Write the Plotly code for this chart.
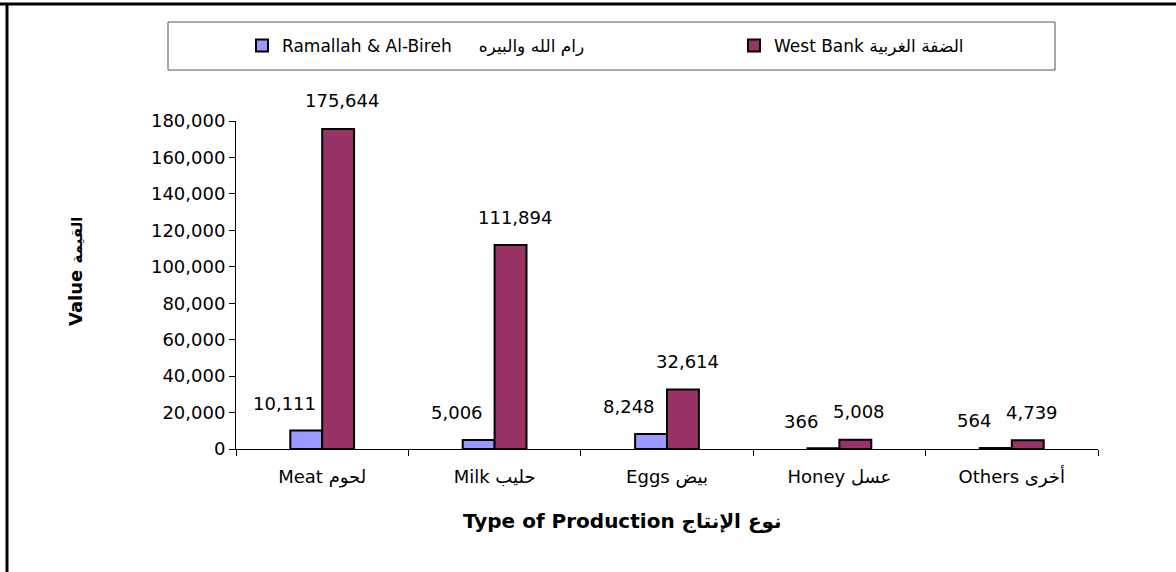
"""Livestock production value: Ramallah & Al-Bireh vs West Bank (grouped bars)."""

import plotly.graph_objects as go

# ── Data ──────────────────────────────────────────────────────────────────────
CATEGORIES = ["Meat لحوم", "Milk حليب", "Eggs بيض", "Honey عسل", "Others أخرى"]
RAMALLAH = [10111, 5006, 8248, 366, 564]
WEST_BANK = [175644, 111894, 32614, 5008, 4739]
SERIES_NAMES = ["Ramallah & Al-Bireh     رام الله والبيره", "West Bank الضفة الغربية"]
Y_TICKS = [0, 20000, 40000, 60000, 80000, 100000, 120000, 140000, 160000, 180000]
X_TITLE = "<b>Type of Production نوع الإنتاج</b>"
Y_TITLE = "<b>Value <span style='font-size:15px'>القيمة</span></b>"

# ── Page geometry (pixels) ────────────────────────────────────────────────────
W, H = 1176, 572
L, R, T, B = 236, 78, 121, 123
PW, PH = W - L - R, H - T - B

FONT = "DejaVu Sans, Arial, sans-serif"
BLUE = "#9999FF"
MAROON = "#993366"


def px_x(px):
    """Pixel x on the page -> plot-area paper fraction."""
    return (px - L) / PW


def px_y(py):
    """Pixel y on the page -> plot-area paper fraction."""
    return (H - B - py) / PH


fig = go.Figure()
for name, vals, colour, leg in [
    (SERIES_NAMES[0], RAMALLAH, BLUE, "legend"),
    (SERIES_NAMES[1], WEST_BANK, MAROON, "legend2"),
]:
    fig.add_trace(
        go.Bar(
            x=CATEGORIES,
            y=vals,
            name=name,
            legend=leg,
            marker=dict(color=colour, line=dict(color="black", width=2)),
            hovertemplate="%{x}<br>%{y:,}<extra></extra>",
        )
    )

# value labels (Excel-style, floated above the bars)
for vals, dx, dy in [(RAMALLAH, -38, 27), (WEST_BANK, 20, 28)]:
    for cat, v in zip(CATEGORIES, vals):
        fig.add_annotation(
            x=cat,
            y=v,
            text=f"{v:,}",
            showarrow=False,
            xshift=dx,
            yshift=dy,
            yanchor="middle",
            font=dict(size=18, color="black", family=FONT),
        )

# axis titles (placed off-centre like the original)
fig.add_annotation(
    x=px_x(622), y=px_y(521), xref="paper", yref="paper",
    text=X_TITLE, showarrow=False, xanchor="center", yanchor="middle",
    font=dict(size=20, family=FONT),
)
fig.add_annotation(
    x=px_x(75), y=px_y(272), xref="paper", yref="paper",
    text=Y_TITLE, showarrow=False, textangle=-90, xanchor="center", yanchor="middle",
    font=dict(size=18, family=FONT),
)

# legend frame + page borders
fig.add_shape(
    type="rect", xref="paper", yref="paper",
    x0=px_x(168), x1=px_x(1055), y0=px_y(70), y1=px_y(22),
    line=dict(color="#555", width=1), fillcolor="white", layer="below",
)
fig.add_shape(
    type="line", xref="paper", yref="paper",
    x0=px_x(0), x1=px_x(W), y0=px_y(4), y1=px_y(4),
    line=dict(color="black", width=3),
)
fig.add_shape(
    type="line", xref="paper", yref="paper",
    x0=px_x(7), x1=px_x(7), y0=px_y(4), y1=px_y(H),
    line=dict(color="black", width=3),
)

legend_common = dict(
    orientation="h",
    xref="container",
    yref="container",
    xanchor="left",
    y=1 - 46 / H,
    yanchor="middle",
    bgcolor="rgba(0,0,0,0)",
    font=dict(size=17, family=FONT),
    itemclick=False,
    itemwidth=30,
)

fig.update_layout(
    width=W,
    height=H,
    barmode="group",
    bargap=0.63,
    bargroupgap=0,
    font=dict(family=FONT, size=18, color="black"),
    margin=dict(l=L, r=R, t=T, b=B),
    plot_bgcolor="white",
    paper_bgcolor="white",
    showlegend=True,
    legend=dict(x=242 / W, **legend_common),
    legend2=dict(x=734 / W, **legend_common),
    xaxis=dict(
        showline=True,
        linecolor="black",
        linewidth=1,
        ticks="outside",
        tickson="boundaries",
        ticklen=6,
        tickcolor="black",
        ticklabelstandoff=11,
        showgrid=False,
        tickfont=dict(size=18),
    ),
    yaxis=dict(
        range=[0, 180000],
        tickvals=Y_TICKS,
        tickformat=",",
        showline=True,
        linecolor="black",
        linewidth=1,
        ticks="outside",
        ticklen=6,
        tickcolor="black",
        showgrid=False,
        zeroline=False,
        tickfont=dict(size=18),
    ),
)

# the page body has an 8px default margin; drop it so the figure sits at 0,0
fig.write_html(
    "out.html",
    config={"displayModeBar": False},
    post_script="document.body.style.margin='0';",
)
